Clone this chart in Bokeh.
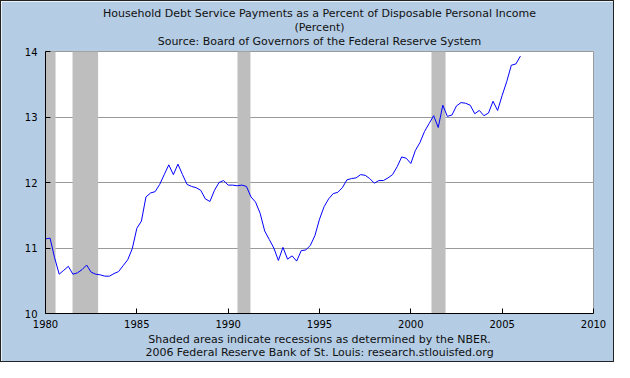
from bokeh.plotting import figure
from bokeh.models import FixedTicker, Range1d, BoxAnnotation, Title
from bokeh.embed import file_html
from bokeh.resources import INLINE

# Quarterly data, 1980Q1 .. 2006Q1
start_year = 1980
values = [
    11.14, 11.15, 10.85, 10.60,   # 1980
    10.66, 10.72, 10.60, 10.62,   # 1981
    10.67, 10.74, 10.63, 10.60,   # 1982
    10.59, 10.57, 10.57, 10.61,   # 1983
    10.64, 10.73, 10.82, 10.99,   # 1984
    11.30, 11.41, 11.78, 11.84,   # 1985
    11.86, 11.97, 12.12, 12.27,   # 1986
    12.12, 12.28, 12.12, 11.97,   # 1987
    11.94, 11.92, 11.88, 11.75,   # 1988
    11.71, 11.88, 12.00, 12.03,   # 1989
    11.96, 11.96, 11.95, 11.96,   # 1990
    11.94, 11.78, 11.70, 11.53,   # 1991
    11.26, 11.13, 11.00, 10.81,   # 1992
    11.01, 10.83, 10.88, 10.80,   # 1993
    10.96, 10.97, 11.04, 11.19,   # 1994
    11.44, 11.63, 11.75, 11.83,   # 1995
    11.85, 11.92, 12.04, 12.06,   # 1996
    12.07, 12.12, 12.11, 12.06,   # 1997
    11.99, 12.03, 12.03, 12.07,   # 1998
    12.12, 12.24, 12.39, 12.37,   # 1999
    12.29, 12.49, 12.61, 12.78,   # 2000
    12.90, 13.02, 12.84, 13.18,   # 2001
    13.01, 13.03, 13.17, 13.22,   # 2002
    13.21, 13.18, 13.05, 13.10,   # 2003
    13.02, 13.06, 13.24, 13.10,   # 2004
    13.33, 13.54, 13.79, 13.81,   # 2005
    13.93,                        # 2006
]
dates = [start_year + i * 0.25 for i in range(len(values))]

recession_start = [1980.0, 1981.48, 1990.51, 2001.13]
recession_end = [1980.55, 1982.88, 1991.22, 2001.90]

x_ticks = [1980, 1985, 1990, 1995, 2000, 2005, 2010]
y_ticks = [10, 11, 12, 13, 14]
grid_ticks = [11, 12, 13]

title_lines = [
    "Household Debt Service Payments as a Percent of Disposable Personal Income",
    "(Percent)",
    "Source: Board of Governors of the Federal Reserve System",
]
footer_lines = [
    "Shaded areas indicate recessions as determined by the NBER.",
    "2006 Federal Reserve Bank of St. Louis: research.stlouisfed.org",
]

BG = "#B4CCE4"
FONT = "DejaVu Sans"

p = figure(width=614, height=362, output_backend="svg", toolbar_location=None,
           title=None,
           x_range=Range1d(1980, 2010), y_range=Range1d(10, 14),
           background_fill_color="white", border_fill_color=BG,
           min_border_left=44, min_border_right=22,
           min_border_top=48, min_border_bottom=50)
p.outline_line_color = "#9A9A9A"
p.outline_line_width = 1

for s, e in zip(recession_start, recession_end):
    p.add_layout(BoxAnnotation(left=s, right=e, fill_color="#BEBEBE",
                               fill_alpha=1.0, line_color=None, level="underlay"))

p.line(dates, values, line_color="#0000FF", line_width=1)

p.xgrid.visible = False
p.ygrid.ticker = FixedTicker(ticks=grid_ticks)
p.ygrid.grid_line_color = "#9A9A9A"
p.ygrid.grid_line_width = 1
p.ygrid.level = "underlay"

for ax, ticks in ((p.xaxis[0], x_ticks), (p.yaxis[0], y_ticks)):
    ax.ticker = FixedTicker(ticks=ticks)
    ax.axis_line_color = "black"
    ax.axis_line_width = 1
    ax.major_tick_in = 5
    ax.major_tick_out = 0
    ax.minor_tick_line_color = None
    ax.major_tick_line_color = "black"
    ax.major_label_text_font = FONT
    ax.major_label_text_font_size = "10px"
    ax.major_label_text_color = "black"
p.xaxis.major_label_standoff = 6
p.yaxis.major_label_standoff = 8


def make_title(lines, standoff, lh):
    return Title(text="\n".join(lines), align="center", text_align="center",
                 text_font=FONT, text_font_size="11px",
                 text_font_style="normal", text_color="#111111", standoff=standoff,
                 text_line_height=lh, background_fill_color=None)


p.add_layout(make_title(title_lines, 6, 1.1), "above")
p.add_layout(make_title(footer_lines, 0, 1.0), "below")

p.styles = {"border": "1px solid #222222", "box-sizing": "border-box"}

open("out.html", "w").write(file_html(p, INLINE))
